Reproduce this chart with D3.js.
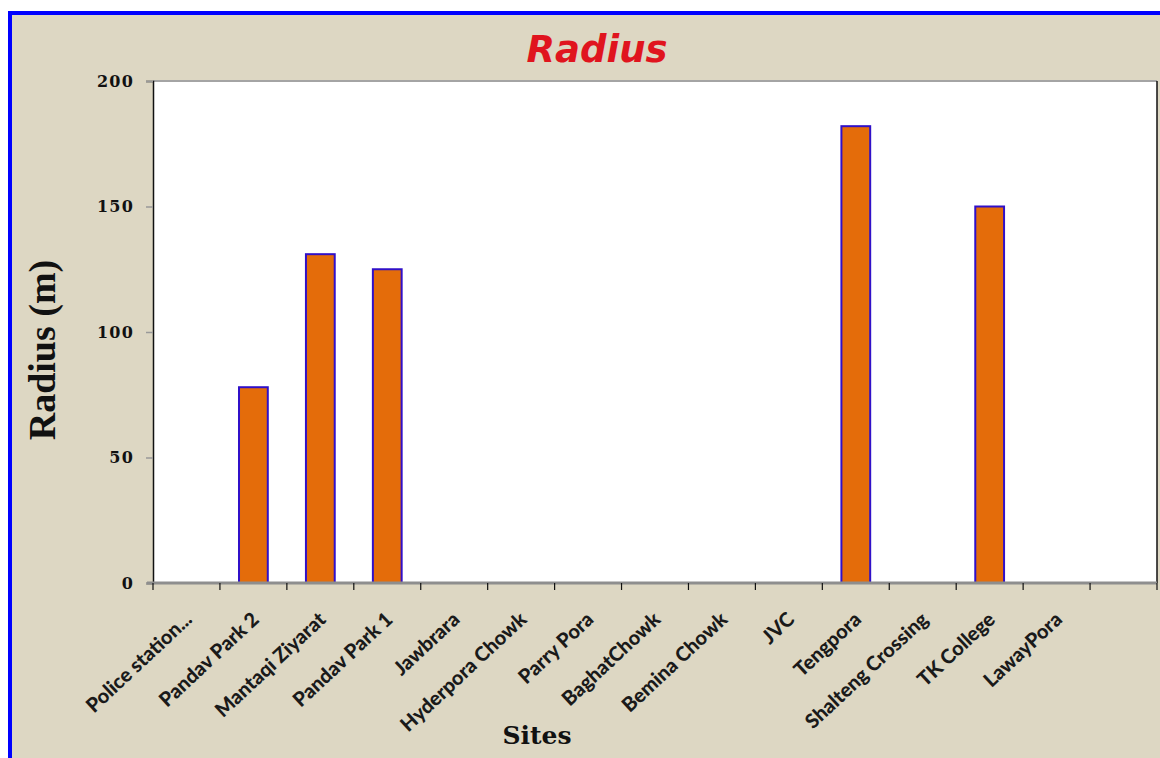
<!DOCTYPE html>
<html>
<head>
<meta charset="utf-8" />
<title>Radius</title>
<script src="https://cdn.jsdelivr.net/npm/d3@7"></script>
<style>
  body { margin: 0; background: #fff; }
</style>
</head>
<body>
<script>
    var sites = ['Police station...', 'Pandav Park 2', 'Mantaqi Ziyarat', 'Pandav Park 1', 'Jawbrara',
        'Hyderpora Chowk', 'Parry Pora', 'BaghatChowk', 'Bemina Chowk', 'JVC', 'Tengpora',
        'Shalteng Crossing', 'TK College', 'LawayPora', ''];
    var radius = [0, 78, 131, 125, 0, 0, 0, 0, 0, 0, 182, 0, 150, 0, 0];
    var yTicks = [0, 50, 100, 150, 200];

    var width = 1160, height = 758;
    var plot = { left: 153, right: 1157, top: 81, bottom: 583 };

    var svg = d3.select('body').append('svg').attr('width', width).attr('height', height);

    // beige panel with blue frame (cropped on right/bottom)
    svg.append('rect').attr('x', 10).attr('y', 13).attr('width', 1170).attr('height', 770)
        .attr('fill', '#ddd7c3').attr('stroke', '#0000ff').attr('stroke-width', 4);

    var x = d3.scaleBand().domain(d3.range(sites.length)).range([plot.left, plot.right]).paddingInner(0).paddingOuter(0);
    var y = d3.scaleLinear().domain([0, 200]).range([plot.bottom, plot.top]);

    // plot area
    svg.append('rect').attr('x', plot.left).attr('y', plot.top)
        .attr('width', plot.right - plot.left).attr('height', plot.bottom - plot.top).attr('fill', '#fff');
    svg.append('line').attr('x1', plot.left).attr('x2', plot.right).attr('y1', plot.top).attr('y2', plot.top)
        .attr('stroke', '#a4a4a4').attr('stroke-width', 2);
    svg.append('line').attr('x1', plot.right).attr('x2', plot.right).attr('y1', plot.top).attr('y2', plot.bottom)
        .attr('stroke', '#111').attr('stroke-width', 1.5);

    // bars
    var bw = x.bandwidth() * 0.43;
    svg.selectAll('.bar').data(radius.map(function (v, i) { return [i, v]; }).filter(function (d) { return d[1] > 0; }))
        .enter().append('rect')
        .attr('class', 'bar')
        .attr('x', function (d) { return x(d[0]) + (x.bandwidth() - bw) / 2; })
        .attr('y', function (d) { return y(d[1]); })
        .attr('width', bw)
        .attr('height', function (d) { return y(0) - y(d[1]); })
        .attr('fill', '#e46c0a')
        .attr('stroke', '#3010c8')
        .attr('stroke-width', 2);

    // y axis
    var yAxis = d3.axisLeft(y).tickValues(yTicks).tickSize(7).tickPadding(12).tickFormat(d3.format('d'));
    var gy = svg.append('g').attr('transform', 'translate(' + plot.left + ',0)').call(yAxis);
    gy.select('.domain').attr('stroke', '#111').attr('stroke-width', 1.5);
    gy.selectAll('.tick line').attr('stroke', '#999').attr('stroke-width', 1.5);
    gy.selectAll('.tick text').attr('fill', '#111')
        .style('font-family', '"DejaVu Serif", serif').style('font-weight', 'bold')
        .style('font-size', '16px').style('letter-spacing', '1.2px');

    // bottom gray axis line
    svg.append('line').attr('x1', plot.left - 6).attr('x2', plot.right).attr('y1', plot.bottom).attr('y2', plot.bottom)
        .attr('stroke', '#8e8e8e').attr('stroke-width', 3);

    // x ticks at band edges
    var edges = d3.range(sites.length + 1).map(function (i) { return plot.left + i * x.bandwidth(); });
    svg.selectAll('.xtick').data(edges).enter().append('line')
        .attr('x1', function (d) { return d; }).attr('x2', function (d) { return d; })
        .attr('y1', plot.bottom).attr('y2', plot.bottom + 7)
        .attr('stroke', '#111').attr('stroke-width', 1.2);

    // x labels
    svg.selectAll('.xlabel').data(sites).enter().append('text')
        .attr('transform', function (d, i) {
            return 'translate(' + (x(i) + x.bandwidth() / 2 + 2) + ',' + (plot.bottom + 33) + ') rotate(-43)';
        })
        .attr('text-anchor', 'end')
        .attr('dy', '0.35em')
        .attr('fill', '#1a1a1a')
        .style('font-family', 'Lato, sans-serif').style('font-weight', '900').style('font-size', '20px')
        .text(function (d) { return d; });

    // title
    svg.append('text').attr('x', 597).attr('y', 62).attr('text-anchor', 'middle')
        .attr('fill', '#e0141e')
        .style('font-family', '"DejaVu Sans", sans-serif').style('font-weight', 'bold')
        .style('font-style', 'italic').style('font-size', '37px')
        .text('Radius');

    // axis titles
    svg.append('text').attr('transform', 'translate(55,350) rotate(-90)').attr('text-anchor', 'middle')
        .attr('fill', '#111')
        .style('font-family', '"Liberation Serif", serif').style('font-weight', 'bold').style('font-size', '38px')
        .text('Radius (m)');
    svg.append('text').attr('x', 537).attr('y', 744).attr('text-anchor', 'middle')
        .attr('fill', '#111')
        .style('font-family', '"DejaVu Serif", serif').style('font-weight', 'bold').style('font-size', '25px')
        .text('Sites');
</script>
</body>
</html>
